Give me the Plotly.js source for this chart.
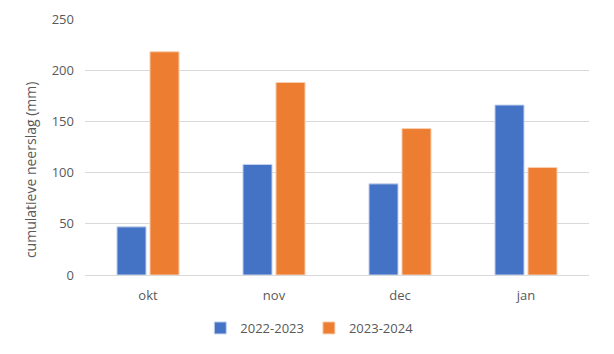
<!DOCTYPE html>
<html>
<head>
<meta charset="utf-8">
<script src="https://cdn.plot.ly/plotly-3.0.1.min.js"></script>
<style>html,body{margin:0;padding:0;background:#fff;}#chart{width:614px;height:354px;}</style>
</head>
<body>
<div id="chart"></div>
<script>
const months = ["okt", "nov", "dec", "jan"];
const series1Name = "2022-2023";
const series1 = [47, 108, 89, 166];
const series2Name = "2023-2024";
const series2 = [218, 188, 143, 105];
const yTicks = [0, 50, 100, 150, 200, 250];
const yTitle = "cumulatieve neerslag (mm)";

const font = {family: "Open Sans, Liberation Sans, sans-serif", color: "#595959", size: 13};

const traces = [
  {type: "bar", name: series1Name, x: months, y: series1,
   marker: {color: "#4472C4", line: {color: "#c7d4ee", width: 1}}},
  {type: "bar", name: series2Name, x: months, y: series2,
   marker: {color: "#ED7D31", line: {color: "#f8cfb2", width: 1}}}
];

const layout = {
  width: 614, height: 354,
  margin: {l: 85, r: 25, t: 19, b: 79, autoexpand: false},
  paper_bgcolor: "#fff", plot_bgcolor: "#fff",
  font: font,
  barmode: "group", bargap: 0.476, bargroupgap: 0.12,
  showlegend: true,
  legend: {orientation: "h", x: 0.445, xanchor: "center", y: -0.207, yanchor: "middle",
           font: {size: 13, color: "#595959"}, itemwidth: 30, tracegroupgap: 0},
  xaxis: {showgrid: false, showline: true, linecolor: "#d9d9d9", linewidth: 1,
          ticks: "", ticklabelstandoff: 8, tickfont: {size: 13, color: "#595959"}},
  yaxis: {range: [0, 250], tickvals: yTicks, showgrid: true, gridcolor: "#d9d9d9", gridwidth: 1,
          zeroline: false, showline: false, ticks: "", ticklabelstandoff: 10,
          tickfont: {size: 13, color: "#595959"}},
  annotations: [{text: yTitle, textangle: -90, xref: "paper", yref: "paper",
                 x: -0.109, y: 0.41, xanchor: "center", yanchor: "middle", showarrow: false,
                 font: {size: 14, color: "#595959"}}]
};

Plotly.newPlot("chart", traces, layout, {displayModeBar: false, staticPlot: true});
</script>
</body>
</html>
